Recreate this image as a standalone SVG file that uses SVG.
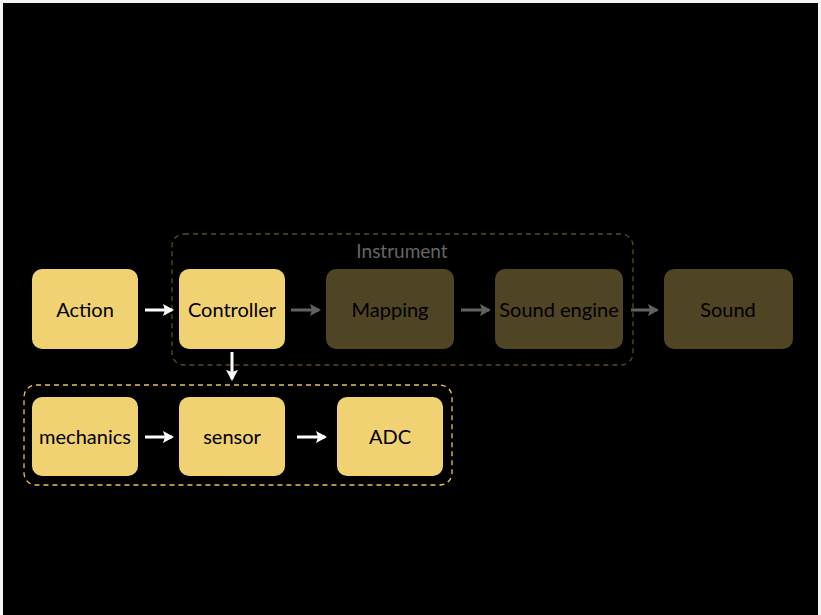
<svg xmlns="http://www.w3.org/2000/svg" width="821" height="615" viewBox="0 0 821 615">
<defs>
<style>
.lit{fill:#f0d273;}
.dim{fill:#4f4424;}
.lbl{font-family:"Lato","Open Sans",sans-serif;font-size:20px;text-anchor:middle;fill:#000;}
.w{stroke:#fff;stroke-width:3;fill:none;}
.g{stroke:#626262;stroke-width:3;fill:none;}
</style>
<marker id="aw" markerWidth="12" markerHeight="14" refX="9" refY="7" orient="auto" markerUnits="userSpaceOnUse"><path d="M0,1 L11,7 L0,13 L2,7 Z" fill="#fff"/></marker>
<marker id="ag" markerWidth="12" markerHeight="14" refX="9" refY="7" orient="auto" markerUnits="userSpaceOnUse"><path d="M0,1 L11,7 L0,13 L2,7 Z" fill="#626262"/></marker>
</defs>
<rect x="0" y="0" width="821" height="615" fill="#f4f4f4"/>
<rect x="3" y="3" width="815" height="612" fill="#000"/>
<g id="instrument-group">
<rect x="172" y="234" width="461" height="131" rx="12" fill="none" stroke="#5a4a2a" stroke-width="1.3" stroke-dasharray="5,4"/>
<text x="402" y="258" font-family="Lato,'Open Sans',sans-serif" font-size="19" fill="#666" text-anchor="middle">Instrument</text>
</g>
<g id="controller-group">
<rect x="24" y="385" width="428" height="100" rx="12" fill="none" stroke="#e8c45a" stroke-width="1.3" stroke-dasharray="5,4"/>
</g>
<g id="connectors">
<line class="w" x1="145" y1="310" x2="172" y2="310" marker-end="url(#aw)"/>
<line class="g" x1="291" y1="310" x2="319" y2="310" marker-end="url(#ag)"/>
<line class="g" x1="461" y1="310" x2="489" y2="310" marker-end="url(#ag)"/>
<line class="g" x1="631" y1="310" x2="657" y2="310" marker-end="url(#ag)"/>
<line class="w" x1="232" y1="352" x2="232" y2="379" marker-end="url(#aw)"/>
<line class="w" x1="145" y1="437" x2="172" y2="437" marker-end="url(#aw)"/>
<line class="w" x1="297" y1="437" x2="325" y2="437" marker-end="url(#aw)"/>
</g>
<g id="action"><rect class="lit" x="32" y="269" width="106" height="80" rx="10"/><text class="lbl" x="85" y="317">Action</text></g>
<g id="controller"><rect class="lit" x="179" y="269" width="106" height="80" rx="10"/><text class="lbl" x="232" y="317">Controller</text></g>
<g id="mapping"><rect class="dim" x="326" y="269" width="128" height="80" rx="10"/><text class="lbl" x="390" y="317">Mapping</text></g>
<g id="sound-engine"><rect class="dim" x="495" y="269" width="128" height="80" rx="10"/><text class="lbl" x="559" y="317">Sound engine</text></g>
<g id="sound"><rect class="dim" x="664" y="269" width="129" height="80" rx="10"/><text class="lbl" x="728" y="317">Sound</text></g>
<g id="mechanics"><rect class="lit" x="32" y="397" width="106" height="79" rx="10"/><text class="lbl" x="85" y="444">mechanics</text></g>
<g id="sensor"><rect class="lit" x="179" y="397" width="106" height="79" rx="10"/><text class="lbl" x="232" y="444">sensor</text></g>
<g id="adc"><rect class="lit" x="337" y="397" width="106" height="79" rx="10"/><text class="lbl" x="390" y="444">ADC</text></g>
</svg>
